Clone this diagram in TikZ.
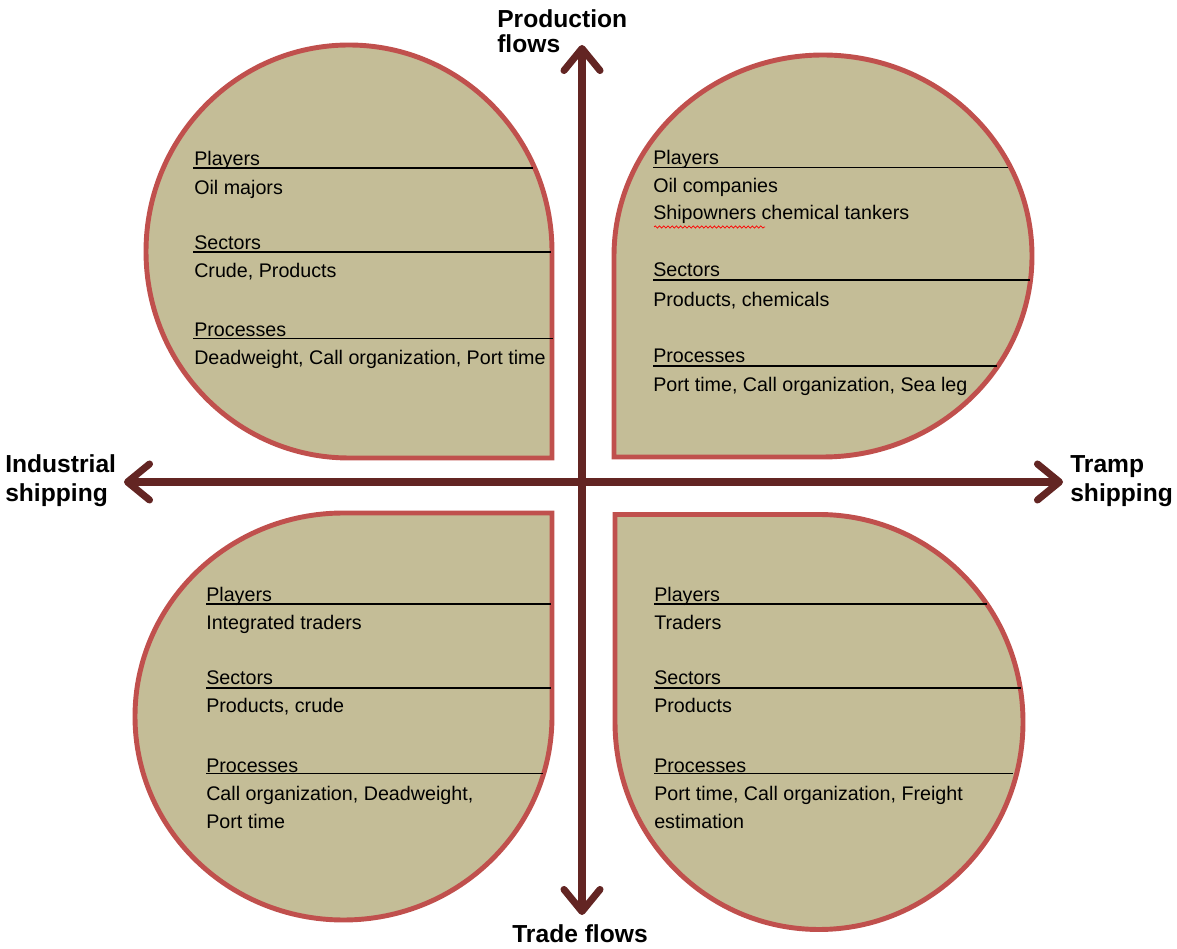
\documentclass[tikz,border=0pt]{standalone}
\usepackage{fontspec}
\setmainfont{Liberation Sans}
\usetikzlibrary{arrows.meta,decorations.pathmorphing}
\definecolor{petalFill}{RGB}{196,189,151}
\definecolor{petalLine}{RGB}{192,80,77}
\definecolor{axisBrown}{RGB}{99,37,35}

\begin{document}
\begin{tikzpicture}[
    x=0.025cm, y=0.025cm,
    petal/.style={draw=petalLine, line width=3.5pt, fill=petalFill},
    flowaxis/.style={draw=axisBrown, line width=5pt,
      arrows={Straight Barb[length=0.55cm, width=0.9cm, line cap=round, line join=round]-Straight Barb[length=0.55cm, width=0.9cm, line cap=round, line join=round]}},
    heading/.style={font=\fontsize{14}{16}\selectfont, anchor=base west, inner sep=0pt},
    entry/.style={heading},
    underline rule/.style={draw=black, line width=1.1pt},
    squiggle/.style={draw=red, line width=0.5pt, decorate, decoration={snake, amplitude=0.8pt, segment length=3pt}},
    axis label/.style={font=\fontsize{17.5}{17.5}\selectfont\bfseries, inner sep=0pt, anchor=base west}
]
  \useasboundingbox (0,0) rectangle (1177,948);

  % four petals
  \draw[petal] (552,696.5) arc[start angle=0, end angle=270, x radius=203, y radius=206.5] -- (552,490) -- cycle;
  \draw[petal] (823,491) arc[start angle=-90, end angle=180, x radius=209, y radius=201] -- (614,491) -- cycle;
  \draw[petal] (343.5,435) arc[start angle=90, end angle=360, x radius=208.5, y radius=203.5] -- (552,435) -- cycle;
  \draw[petal] (615,226) arc[start angle=180, end angle=450, x radius=204, y radius=207.5] -- (615,433.5) -- cycle;

  % axes
  \coordinate (axTop) at (582,903);
  \coordinate (axBottom) at (582,33);
  \coordinate (axLeft) at (124,466);
  \coordinate (axRight) at (1063,466);
  \draw[flowaxis] (axBottom) -- (axTop);
  \draw[flowaxis] (axLeft) -- (axRight);

  \node[axis label] (prodA) at (497,920) {Production};
  \node[axis label] (prodB) at (497,895) {flows};
  \node[axis label] (indA) at (5,475) {Industrial};
  \node[axis label] (indB) at (5,446) {shipping};
  \node[axis label] (trampA) at (1070,475) {Tramp};
  \node[axis label] (trampB) at (1070,446) {shipping};
  \node[axis label, anchor=base] (trade) at (580,6) {Trade flows};

  % top left
  \node[heading] (tlPlay) at (194,782) {Players};
  \node[entry] (tlPlayTxt) at (194,753) {Oil majors};
  \node[heading] (tlSect) at (194,698) {Sectors};
  \node[entry] (tlSectTxt) at (194,670) {Crude, Products};
  \node[heading] (tlProc) at (194,611) {Processes};
  \node[entry] (tlProcTxt) at (194,583) {Deadweight, Call organization, Port time};
  \draw[underline rule] (193,780) -- (533,780);
  \draw[underline rule] (193,696) -- (551,696);
  \draw[underline rule] (193,609.5) -- (553,609.5);

  % top right
  \node[heading] (trPlay) at (653,783) {Players};
  \node[entry] (trPlayTxt) at (653,755) {Oil companies};
  \node[entry] (trPlayTxtB) at (653,728) {Shipowners chemical tankers};
  \node[heading] (trSect) at (653,671) {Sectors};
  \node[entry] (trSectTxt) at (653,641) {Products, chemicals};
  \node[heading] (trProc) at (653,585) {Processes};
  \node[entry] (trProcTxt) at (653,556) {Port time, Call organization, Sea leg};
  \draw[underline rule] (653,780.5) -- (1008,780.5);
  \draw[underline rule] (653,668) -- (1030,668);
  \draw[underline rule] (653,582) -- (997,582);
  \draw[squiggle] (654,721) -- (765,721);

  % bottom left
  \node[heading] (blPlay) at (206,346) {Players};
  \node[entry] (blPlayTxt) at (206,318) {Integrated traders};
  \node[heading] (blSect) at (206,263) {Sectors};
  \node[entry] (blSectTxt) at (206,235) {Products, crude};
  \node[heading] (blProc) at (206,176) {Processes};
  \node[entry] (blProcTxt) at (206,148) {Call organization, Deadweight,};
  \node[entry] (blProcTxtB) at (206,120) {Port time};
  \draw[underline rule] (206,344) -- (551,344);
  \draw[underline rule] (206,260) -- (551,260);
  \draw[underline rule] (206,174.5) -- (543,174.5);

  % bottom right
  \node[heading] (brPlay) at (654,346) {Players};
  \node[entry] (brPlayTxt) at (654,318) {Traders};
  \node[heading] (brSect) at (654,263) {Sectors};
  \node[entry] (brSectTxt) at (654,235) {Products};
  \node[heading] (brProc) at (654,176) {Processes};
  \node[entry] (brProcTxt) at (654,148) {Port time, Call organization, Freight};
  \node[entry] (brProcTxtB) at (654,120) {estimation};
  \draw[underline rule] (654,344) -- (987,344);
  \draw[underline rule] (654,260) -- (1021,260);
  \draw[underline rule] (654,174.5) -- (1013,174.5);
\end{tikzpicture}
\end{document}
